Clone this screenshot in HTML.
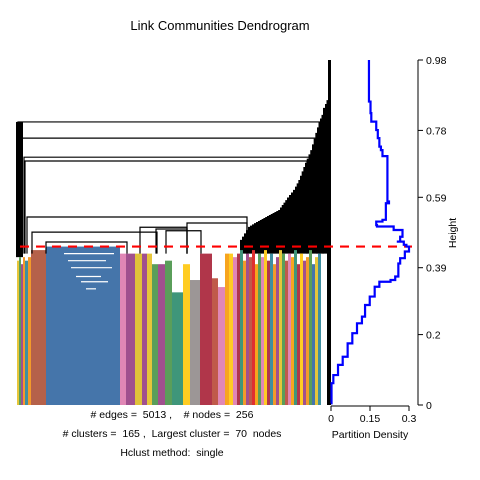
<!DOCTYPE html>
<html><head><meta charset="utf-8">
<style>
body{margin:0;background:#fff;}
svg{display:block;font-family:"Liberation Sans",Arial,sans-serif;}
text{white-space:pre;}
</style></head>
<body>
<svg id="chart" width="480" height="480" viewBox="0 0 480 480" xml:space="preserve">
<rect width="480" height="480" fill="#fff"/>
<text x="220" y="30" font-size="13" text-anchor="middle">Link Communities Dendrogram</text>
<g id="dendro"></g>
<g id="dens"></g>
<text x="172" y="418" font-size="10.5" text-anchor="middle"># edges =  5013 ,    # nodes =  256</text>
<text x="172" y="437" font-size="10.5" text-anchor="middle"># clusters =  165 ,  Largest cluster =  70  nodes</text>
<text x="172" y="456" font-size="10.5" text-anchor="middle">Hclust method:  single</text>
<text x="370" y="438" font-size="10.5" text-anchor="middle">Partition Density</text>
<text transform="translate(456,233) rotate(-90)" font-size="10.5" text-anchor="middle">Height</text>
</svg>
<script>
// ---- data ----
const heightTicks = [0, 0.2, 0.39, 0.59, 0.78, 0.98];
const densityTicks = [0, 0.15, 0.3];
const cutHeight = 0.45;
const densityValues = [0.146,0.152,0.155,0.158,0.174,0.180,0.186,0.192,0.198,0.204,0.217,0.217,0.223,0.211,0.211,0.198,0.174,0.177,0.241,0.275,0.266,0.253,0.280,0.290,0.300,0.284,0.266,0.259,0.259,0.247,0.229,0.186,0.168,0.149,0.131,0.119,0.100,0.082,0.064,0.045,0.027,0.009,0.002,0];
const densityHeights = [0.98,0.862,0.829,0.805,0.805,0.781,0.758,0.734,0.724,0.707,0.707,0.592,0.578,0.573,0.545,0.526,0.521,0.511,0.507,0.497,0.478,0.464,0.464,0.455,0.450,0.436,0.417,0.402,0.374,0.365,0.355,0.350,0.336,0.308,0.284,0.251,0.232,0.204,0.175,0.137,0.114,0.085,0.062,0.005];
const clusterStart = [1,3,5,7,9,12,15,30,104,110,119,126,131,136,142,149,156,167,174,184,196,202,209,213,217,221,224,227,230,233,236,239,242,245,248,251,254,257,260,263,266,269,272,275,278,281,284,287,290,293,296,299,302];
const clusterWidth = [2,2,2,2,3,3,15,74,6,9,7,5,5,6,7,7,11,7,10,12,6,7,4,4,4,3,3,3,3,3,3,3,3,3,3,3,3,3,3,3,3,3,3,3,3,3,3,3,3,3,3,3,3];
const clusterHeight = [0.41,0.42,0.40,0.42,0.41,0.42,0.44,0.45,0.43,0.43,0.43,0.43,0.43,0.40,0.40,0.41,0.32,0.40,0.355,0.43,0.36,0.335,0.43,0.43,0.42,0.43,0.44,0.41,0.43,0.42,0.44,0.40,0.43,0.42,0.44,0.41,0.43,0.40,0.42,0.44,0.43,0.41,0.43,0.42,0.44,0.40,0.43,0.41,0.42,0.44,0.40,0.42,0.43];
const clusterColor = ["#e6c63a","#5a9e5a","#a0508e","#f39a2a","#3f8fa0","#f39a2a","#b5614a","#4575aa","#e087b5","#a0508e","#e0c23a","#a0508e","#e6c63a","#5a9e5a","#a0508e","#5a9e5a","#3f967a","#ffcc22","#9c9696","#b0364a","#c05a4a","#e087b5","#f7a51e","#ffcc22","#e087b5","#b0364a","#3f967a","#f39a2a","#a0508e","#c05a4a","#e03030","#f7a51e","#5a9e5a","#e087b5","#ffcc22","#b0364a","#3f8fa0","#f39a2a","#a0508e","#e6c63a","#5a9e5a","#c05a4a","#e087b5","#f7a51e","#3f967a","#b0364a","#ffcc22","#a0508e","#f39a2a","#5a9e5a","#4575aa","#e6c63a","#3f8fa0"];
// inner sub-merges inside the largest cluster (leaf units, height)
const innerFrom = [48,52,55,60,65,70];
const innerTo = [98,90,96,85,92,80];
const innerHeight = [0.43,0.41,0.39,0.365,0.35,0.33];
const mergeFrom = [2,6,8,9,11,16,30,124,171,140,150];
const mergeTo = [307,304,301,291,231,141,111,171,231,171,185];
const mergeHeight = [0.804,0.758,0.704,0.693,0.534,0.491,0.463,0.505,0.517,0.50,0.495];
const stairLeaf = [313,312,309,307,304,301,296,289,284,279,271,264,251,242,234,224];
const stairHeight = [0.98,0.866,0.844,0.824,0.804,0.773,0.724,0.676,0.639,0.611,0.582,0.554,0.534,0.520,0.506,0.460];

// ---- scales ----
const yH = h => 405 - h/0.98*345;
const xL = l => 16 + l;
const xD = d => 331 + d/0.3*78;
const NS = "http://www.w3.org/2000/svg";
function mk(tag, parent, attrs){const e=document.createElementNS(NS,tag);for(const k in attrs)e.setAttribute(k,attrs[k]);parent.appendChild(e);return e;}
const dg = document.getElementById('dendro');
const dp = document.getElementById('dens');

const lc = mk('rect', dg, {x:xL(0), y:yH(0.804), width:7, height:yH(0.42)-yH(0.804), fill:'#000'});



// staircase: fine steps between consecutive anchor points
let pts = [];
const last = stairLeaf.length-1;
pts.push([xL(stairLeaf[last]), yH(0.43)]);
for (let i = last; i > 0; i--) {
  const x0 = xL(stairLeaf[i]), x1 = xL(stairLeaf[i-1]);
  const y0 = yH(stairHeight[i]), y1 = yH(stairHeight[i-1]);
  const n = Math.max(1, Math.round((x1-x0)/2));
  for (let k = 0; k < n; k++) {
    const xa = x0 + (x1-x0)*k/n, ya = y0 + (y1-y0)*k/n, yb = y0 + (y1-y0)*(k+1)/n;
    pts.push([xa, ya]); pts.push([xa, yb]);
  }
}
pts.push([xL(stairLeaf[0]), yH(stairHeight[0])]);
pts.push([xL(315), yH(stairHeight[0])],[xL(315), yH(0)],[xL(311), yH(0)],[xL(311), yH(0.43)]);
const st = mk('polygon', dg, {points: pts.map(p=>p.join(',')).join(' '), fill:'#000'});



for (let i = 0; i < clusterStart.length; i++) {
  const r = mk('rect', dg, {x:xL(clusterStart[i]), y:yH(clusterHeight[i]), width:clusterWidth[i], height:yH(0)-yH(clusterHeight[i]), fill:clusterColor[i]});
  
  
}
for (let i = 0; i < innerFrom.length; i++) {
  const l = mk('line', dg, {x1:xL(innerFrom[i]), x2:xL(innerTo[i]), y1:yH(innerHeight[i]), y2:yH(innerHeight[i]), stroke:'#fff', 'stroke-width':1.2});
  
  
}
for (let i = 0; i < mergeFrom.length; i++) {
  const p = mk('path', dg, {d:`M${xL(mergeFrom[i])},${yH(0.43)}V${yH(mergeHeight[i])}H${xL(mergeTo[i])}V${yH(0.43)}`, fill:'none', stroke:'#000', 'stroke-width':1.2});
  
  
}
const cl = mk('line', dg, {x1:20, x2:412, y1:yH(cutHeight), y2:yH(cutHeight), stroke:'#ff0000', 'stroke-width':2.2, 'stroke-dasharray':'9,7'});



let d = '';
for (let i = 0; i < densityValues.length; i++) {
  if (i===0) d += 'M' + xD(densityValues[i]) + ',' + yH(densityHeights[i]);
  else d += 'V' + yH(densityHeights[i]) + 'H' + xD(densityValues[i]);
}
const dc = mk('path', dp, {d, fill:'none', stroke:'#0000ff', 'stroke-width':2.2});



const xa = mk('line', dp, {x1:xD(0), x2:xD(0.3), y1:406, y2:406, stroke:'#000'});


densityTicks.forEach((t,i) => {
  const tk = mk('line', dp, {x1:xD(t), x2:xD(t), y1:406, y2:411, stroke:'#000'});
  
  
  const tl = mk('text', dp, {x:xD(t), y:422, 'font-size':10.5, 'text-anchor':'middle'});
  tl.textContent = String(t);
  
  
});
const ya = mk('line', dp, {x1:418, x2:418, y1:yH(0.98), y2:yH(0), stroke:'#000'});


heightTicks.forEach((t,i) => {
  const tk = mk('line', dp, {x1:418, x2:423, y1:yH(t), y2:yH(t), stroke:'#000'});
  
  
  const tl = mk('text', dp, {x:426, y:yH(t)+4, 'font-size':10.5});
  tl.textContent = String(t);
  
  
});
</script>
</body></html>
